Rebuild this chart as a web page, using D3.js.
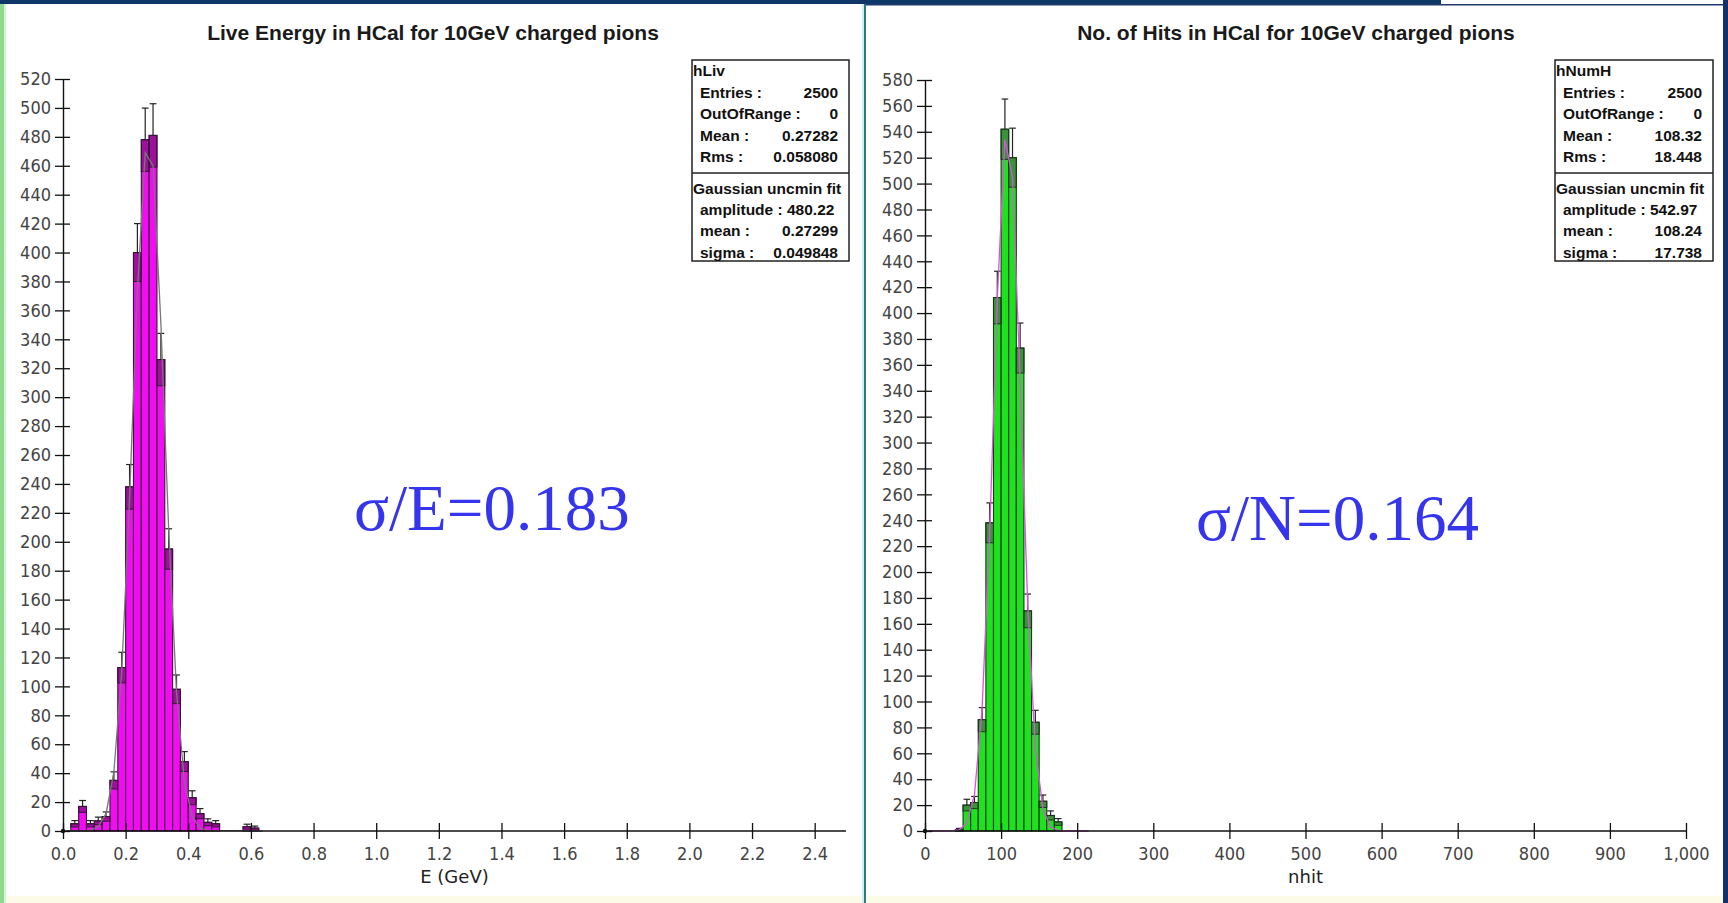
<!DOCTYPE html>
<html>
<head>
<meta charset="utf-8">
<title>HCal response to 10GeV charged pions</title>
<script src="https://d3js.org/d3.v7.min.js"></script>
<style>
  body { margin: 0; background: #fff; }
  svg { display: block; }
</style>
</head>
<body>
<svg id="chart" width="1728" height="903"></svg>
<script>
// --- live energy histogram, bins of 0.025 GeV (lower edges + contents)
var eBinLow = [0.025, 0.05, 0.075, 0.1, 0.125, 0.15, 0.175, 0.2, 0.225, 0.25, 0.275,
               0.3, 0.325, 0.35, 0.375, 0.4, 0.425, 0.45, 0.475, 0.575, 0.6];
var eCounts = [5, 17, 5, 7, 10, 35, 113, 238, 400, 478, 481,
               326, 195, 98, 48, 23, 12, 6, 5, 3, 2];
var eErrors = [2.2, 4.1, 2.2, 2.6, 3.2, 5.9, 10.6, 15.4, 20, 21.9, 21.9,
               18.1, 14, 9.9, 6.9, 4.8, 3.5, 2.4, 2.2, 1.7, 1.4];
// gaussian fit curve as drawn (bin centres)
var eFitX = [0.0125, 0.0875, 0.1125, 0.1375, 0.1625, 0.1875, 0.2125, 0.2375, 0.2625, 0.2875,
             0.3125, 0.3375, 0.3625, 0.3875, 0.4125, 0.4375, 0.4625, 0.6375];
var eFitY = [0, 0.5, 3, 12, 41, 110, 230, 373, 469, 460,
             351, 208, 96, 34, 10, 2, 0.4, 0];
var eTicksX = [0, 0.2, 0.4, 0.6, 0.8, 1.0, 1.2, 1.4, 1.6, 1.8, 2.0, 2.2, 2.4];
var eStats = [["Entries :", "2500"], ["OutOfRange :", "0"], ["Mean :", "0.27282"], ["Rms :", "0.058080"]];
var eFit = [["amplitude : 480.22", ""], ["mean :", "0.27299"], ["sigma :", "0.049848"]];

// --- number of hits histogram, bins of 10
var nBinLow = [40, 50, 60, 70, 80, 90, 100, 110, 120, 130, 140, 150, 160, 170];
var nCounts = [1, 20, 22, 86, 238, 412, 542, 520, 373, 170, 84, 23, 12, 7];
var nErrors = [1, 4.5, 4.7, 9.3, 15.4, 20.3, 23.3, 22.8, 19.3, 13, 9.2, 4.8, 3.5, 2.6];
var nFitX = [5, 35, 45, 55, 65, 75, 85, 95, 105, 115, 125, 135, 145, 155, 165, 175, 185, 215];
var nFitY = [0, 0.1, 0.9, 6, 28, 94, 230, 411, 534, 505, 348, 174, 64, 17, 3, 0.5, 0, 0];
var nTicksX = [0, 100, 200, 300, 400, 500, 600, 700, 800, 900, 1000];
var nStats = [["Entries :", "2500"], ["OutOfRange :", "0"], ["Mean :", "108.32"], ["Rms :", "18.448"]];
var nFit = [["amplitude : 542.97", ""], ["mean :", "108.24"], ["sigma :", "17.738"]];

var svg = d3.select("#chart");

// page frame
svg.append("rect").attr("x", 0).attr("y", 0).attr("width", 1728).attr("height", 903).attr("fill", "#fff");
svg.append("rect").attr("x", 0).attr("y", 896).attr("width", 1728).attr("height", 7).attr("fill", "#fbfbe8");
svg.append("rect").attr("x", 0).attr("y", 0).attr("width", 4).attr("height", 903).attr("fill", "#8fd88f");
svg.append("rect").attr("x", 4).attr("y", 0).attr("width", 2).attr("height", 903).attr("fill", "#d4f2d4");
svg.append("rect").attr("x", 862).attr("y", 0).attr("width", 2).attr("height", 903).attr("fill", "#cfeeee");
svg.append("rect").attr("x", 864).attr("y", 0).attr("width", 2).attr("height", 903).attr("fill", "#2b7c82");
svg.append("rect").attr("x", 1723).attr("y", 0).attr("width", 5).attr("height", 903).attr("fill", "#14306c");
svg.append("rect").attr("x", 866).attr("y", 4).attr("width", 857).attr("height", 1.5).attr("fill", "#203a70");
svg.append("rect").attr("x", 0).attr("y", 0).attr("width", 1441).attr("height", 4).attr("fill", "#0c3766");

function drawPanel(p) {
  var g = svg.append("g");
  var x = d3.scaleLinear().domain(p.xDomain).range(p.xRange);
  var y = d3.scaleLinear().domain(p.yDomain).range([831, p.yTop]);

  g.append("text").attr("x", p.titleX).attr("y", 40)
    .attr("text-anchor", "middle")
    .attr("font-family", "Liberation Sans, Arial, sans-serif")
    .attr("font-size", 21).attr("font-weight", "bold").attr("fill", "#1a1a1a")
    .text(p.title);

  // bars
  var bins = p.binLow.map(function (b, i) { return { x0: b, x1: b + p.binW, n: p.counts[i], e: p.errors[i] }; });
  g.selectAll("rect.bar").data(bins).enter().append("rect")
    .attr("class", "bar")
    .attr("x", function (d) { return x(d.x0); })
    .attr("y", function (d) { return y(d.n); })
    .attr("width", function (d) { return x(d.x1) - x(d.x0); })
    .attr("height", function (d) { return y(0) - y(d.n); })
    .attr("fill", p.fill).attr("stroke", p.stroke).attr("stroke-width", 1.1);

  // error boxes (lower half) and whiskers (upper half)
  g.selectAll("rect.err").data(bins).enter().append("rect")
    .attr("x", function (d) { return x(d.x0); })
    .attr("y", function (d) { return y(d.n); })
    .attr("width", function (d) { return x(d.x1) - x(d.x0); })
    .attr("height", function (d) { return y(Math.max(0, d.n - d.e)) - y(d.n); })
    .attr("fill", p.errFill).attr("stroke", p.stroke).attr("stroke-width", 1);
  g.selectAll("line.whisk").data(bins).enter().append("line")
    .attr("x1", function (d) { return (x(d.x0) + x(d.x1)) / 2; })
    .attr("x2", function (d) { return (x(d.x0) + x(d.x1)) / 2; })
    .attr("y1", function (d) { return y(d.n); })
    .attr("y2", function (d) { return y(d.n + d.e); })
    .attr("stroke", "#222").attr("stroke-width", 1.2);
  g.selectAll("line.cap").data(bins).enter().append("line")
    .attr("x1", function (d) { return x(d.x0) + 0.5; })
    .attr("x2", function (d) { return x(d.x1) - 0.5; })
    .attr("y1", function (d) { return y(d.n + d.e); })
    .attr("y2", function (d) { return y(d.n + d.e); })
    .attr("stroke", "#222").attr("stroke-width", 1.2);

  // fit line
  var line = d3.line().x(function (d) { return x(d[0]); }).y(function (d) { return y(d[1]); });
  g.append("path").datum(p.fitX.map(function (v, i) { return [v, p.fitY[i]]; }))
    .attr("d", line).attr("fill", "none")
    .attr("stroke", p.fitColor).attr("stroke-width", 1.3);

  // axes
  var ax = g.append("g").attr("transform", "translate(0,831)")
    .call(d3.axisBottom(x).tickValues(p.ticksX).tickFormat(p.fmt).tickSize(8).tickPadding(8).tickSizeOuter(0));
  var ay = g.append("g").attr("transform", "translate(" + p.xRange[0] + ",0)")
    .call(d3.axisLeft(y).tickValues(d3.range(p.yDomain[0], p.yDomain[1] + 1, 20)).tickSize(8).tickPadding(4).tickSizeOuter(0));
  [ax, ay].forEach(function (a) {
    a.select(".domain").attr("stroke", "#111").attr("stroke-width", 1.4);
    a.selectAll(".tick line").attr("stroke", "#111").attr("stroke-width", 1.3);
    a.selectAll(".tick text").attr("fill", "#444")
      .attr("font-family", "DejaVu Sans Condensed, DejaVu Sans, sans-serif").attr("font-size", 18);
  });
  ax.selectAll(".tick line").attr("y1", -8).attr("y2", 8);
  ay.selectAll(".tick line").attr("x1", 7).attr("x2", -8);
  ax.select(".domain").attr("d", "M" + p.xRange[0] + ",0H" + p.xRange[1]);
  g.append("circle").attr("cx", p.xRange[0]).attr("cy", 831).attr("r", 2.2).attr("fill", "#111");

  g.append("text").attr("x", (p.xRange[0] + p.xRange[1]) / 2).attr("y", 883)
    .attr("text-anchor", "middle")
    .attr("font-family", "DejaVu Sans, sans-serif").attr("font-size", 18).attr("fill", "#222")
    .text(p.xLabel);

  // statistics box
  var bx = p.boxX, bw = p.boxW;
  var box = g.append("g").attr("font-family", "Liberation Sans, Arial, sans-serif")
    .attr("font-weight", "bold").attr("font-size", 15.5).attr("fill", "#111");
  box.append("rect").attr("x", bx).attr("y", 60).attr("width", bw).attr("height", 201)
    .attr("fill", "#fff").attr("stroke", "#222").attr("stroke-width", 1.5);
  box.append("line").attr("x1", bx).attr("x2", bx + bw).attr("y1", 173).attr("y2", 173)
    .attr("stroke", "#222").attr("stroke-width", 1.5);
  box.append("text").attr("x", bx + 1).attr("y", 76).text(p.name);
  p.stats.forEach(function (s, i) {
    box.append("text").attr("x", bx + 8).attr("y", 98 + i * 21.3).text(s[0]);
    box.append("text").attr("x", bx + bw - 11).attr("y", 98 + i * 21.3).attr("text-anchor", "end").text(s[1]);
  });
  box.append("text").attr("x", bx + 1).attr("y", 194).text("Gaussian uncmin fit");
  p.fit.forEach(function (s, i) {
    box.append("text").attr("x", bx + 8).attr("y", 215 + i * 21.3).text(s[0]);
    box.append("text").attr("x", bx + bw - 11).attr("y", 215 + i * 21.3).attr("text-anchor", "end").text(s[1]);
  });

  // resolution annotation
  g.append("text").attr("x", p.noteX).attr("y", p.noteY)
    .attr("font-family", "Liberation Serif, Times New Roman, serif")
    .attr("font-size", 65).attr("fill", "#3535ee")
    .text(p.note);
}

drawPanel({
  title: "Live Energy in HCal for 10GeV charged pions", titleX: 433,
  xDomain: [0, 2.5], xRange: [63, 846], yDomain: [0, 520], yTop: 79,
  binLow: eBinLow, binW: 0.025, counts: eCounts, errors: eErrors,
  fitX: eFitX, fitY: eFitY, ticksX: eTicksX, fmt: d3.format(".1f"),
  fill: "#f20cf2", stroke: "#3a123a", errFill: "rgba(70,20,70,0.5)", fitColor: "#777",
  xLabel: "E (GeV)", name: "hLiv", stats: eStats, fit: eFit, boxX: 692, boxW: 157,
  note: "\u03c3/E=0.183", noteX: 354, noteY: 530
});

drawPanel({
  title: "No. of Hits in HCal for 10GeV charged pions", titleX: 1296,
  xDomain: [0, 1000], xRange: [925, 1686], yDomain: [0, 580], yTop: 80,
  binLow: nBinLow, binW: 10, counts: nCounts, errors: nErrors,
  fitX: nFitX, fitY: nFitY, ticksX: nTicksX, fmt: d3.format(","),
  fill: "#1fe21f", stroke: "#163a16", errFill: "rgba(80,70,80,0.5)", fitColor: "#e050e0",
  xLabel: "nhit", name: "hNumH", stats: nStats, fit: nFit, boxX: 1555, boxW: 158,
  note: "\u03c3/N=0.164", noteX: 1196, noteY: 540
});
</script>
</body>
</html>
